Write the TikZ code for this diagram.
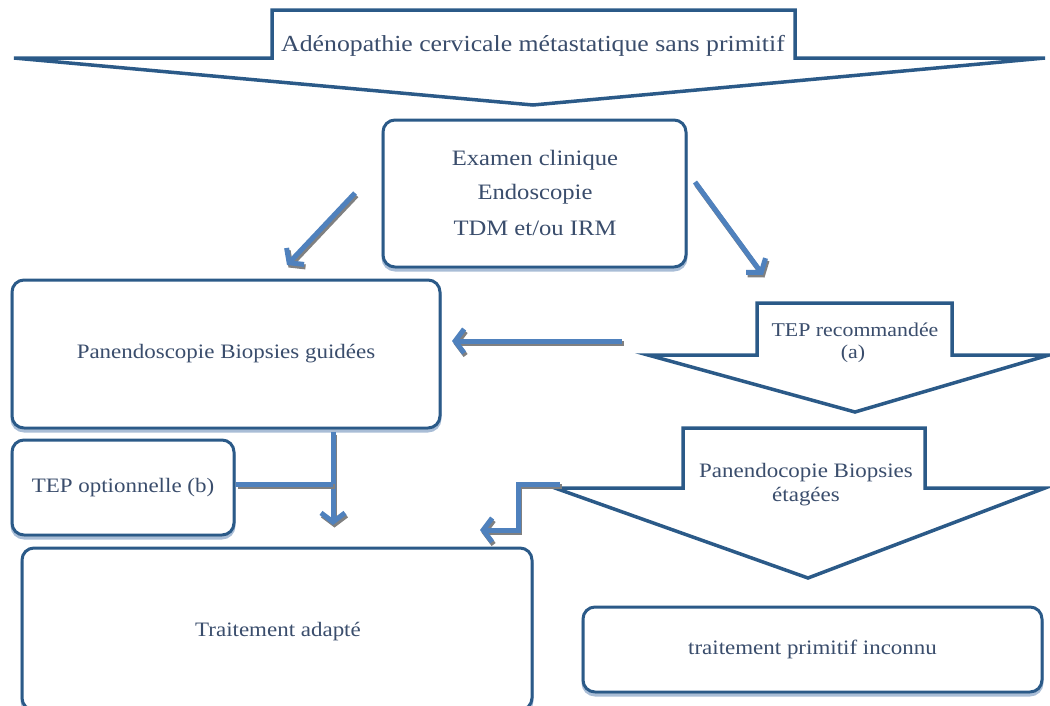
\documentclass[tikz,border=0pt]{standalone}
\usepackage{fontspec}
\setmainfont[FakeStretch=1.12]{Liberation Serif}
\usetikzlibrary{arrows.meta}
\definecolor{outl}{HTML}{2B5A88}
\definecolor{arr}{HTML}{4F81BD}
\definecolor{shad}{HTML}{808080}
\definecolor{txt}{HTML}{3A4D6C}
\definecolor{boxsh}{HTML}{A9BDD6}
\tikzset{
  blockarrow/.style={draw=outl, line width=3.5pt, fill=white, line join=miter},
  roundbox/.style={draw=outl, line width=3pt, rounded corners=12pt, fill=white, text=txt, align=center,
    inner sep=0pt, preaction={draw=boxsh, line width=3pt, transform canvas={shift={(0pt,-3pt)}}}},
  lbl/.style={text=txt, align=center, inner sep=0pt},
  conn/.style={draw=arr, line width=5pt, -{Straight Barb[length=9pt,width=24pt]},
    preaction={draw=shad, line width=5pt, -{Straight Barb[length=9pt,width=24pt]}, transform canvas={shift={(1.5pt,-2.5pt)}}}},
  connplain/.style={draw=arr, line width=5pt,
    preaction={draw=shad, line width=5pt, transform canvas={shift={(1.5pt,-2.5pt)}}}},
}
\newcommand{\fsT}{\fontsize{23}{27}\selectfont}
\newcommand{\fsA}{\fontsize{22}{26}\selectfont}
\newcommand{\fsB}{\fontsize{20.5}{20.5}\selectfont}
\newcommand{\fsC}{\fontsize{19.5}{19.5}\selectfont}
\begin{document}
\begin{tikzpicture}[x=1pt,y=-1pt]
\useasboundingbox (0,0) rectangle (1050,705);
\begin{scope}
\clip (0,0) rectangle (1050,705);
% top block arrow
\draw[blockarrow] (14,58) -- (272,58) -- (272,10) -- (795,10) -- (795,58) -- (1045,58) -- (533,105) -- cycle;
\node[lbl, font=\fsT] (title) at (533,46) {Adénopathie cervicale métastatique sans primitif};

% examen box
\node[roundbox, minimum width=303pt, minimum height=147pt] (exam) at (534.5,193.5) {};
\node[lbl, font=\fsA] (e1) at (535,160) {Examen clinique};
\node[lbl, font=\fsA] (e2) at (535,194) {Endoscopie};
\node[lbl, font=\fsA] (e3) at (535,228) {TDM et/ou IRM};

% panendoscopie guidees
\node[roundbox, minimum width=428pt, minimum height=148pt, font=\fsB] (pan) at (226,354) {Panendoscopie Biopsies guidées};

% TEP recommandee arrow
\draw[blockarrow] (648,355) -- (757,355) -- (757,303) -- (952,303) -- (952,355) -- (1049,355) -- (855,412) -- cycle;
\node[lbl, font=\fsC] (tep) at (855,330) {TEP recommandée};
\node[lbl, font=\fsC] (tepa) at (853,354) {(a)};

% Panendocopie etagees arrow
\draw[blockarrow] (555,488) -- (683,488) -- (683,428) -- (925,428) -- (925,488) -- (1045,488) -- (808,578) -- cycle;
\node[lbl, font=\fsB] (et1) at (806,473) {Panendocopie Biopsies};
\node[lbl, font=\fsB] (et2) at (806,497) {étagées};

% TEP optionnelle
\node[roundbox, minimum width=222pt, minimum height=95pt, font=\fsB] (opt) at (123,487.5) {TEP optionnelle (b)};

% Traitement adapte
\node[roundbox, minimum width=510pt, minimum height=162pt, font=\fsB] (trt) at (277,629) {};
\node[lbl, font=\fsB] (trtl) at (278,632) {Traitement adapté};

% traitement primitif inconnu
\node[roundbox, minimum width=459pt, minimum height=85pt, font=\fsB] (inc) at (812.5,649.5) {traitement primitif inconnu};
\end{scope}

% connectors
\coordinate (d1s) at (355,193);
\coordinate (d1e) at (287,265);
\draw[conn] (d1s) -- (d1e);
\coordinate (d2s) at (695,182);
\coordinate (d2e) at (763,275);
\draw[conn] (d2s) -- (d2e);
\coordinate (hs) at (622,341);
\coordinate (he) at (452,341);
\draw[conn] (hs) -- (he);
\coordinate (vs) at (333,432);
\coordinate (ve) at (333,525);
\draw[conn] (vs) -- (ve);
\coordinate (ts) at (236,484);
\coordinate (tj) at (333,484);
\draw[connplain] (ts) -- (tj);
\coordinate (bs) at (560,484);
\coordinate (bm1) at (518,484);
\coordinate (bm2) at (518,530);
\coordinate (be) at (480,530);
\draw[conn] (bs) -- (bm1) -- (bm2) -- (be);
\end{tikzpicture}
\end{document}
